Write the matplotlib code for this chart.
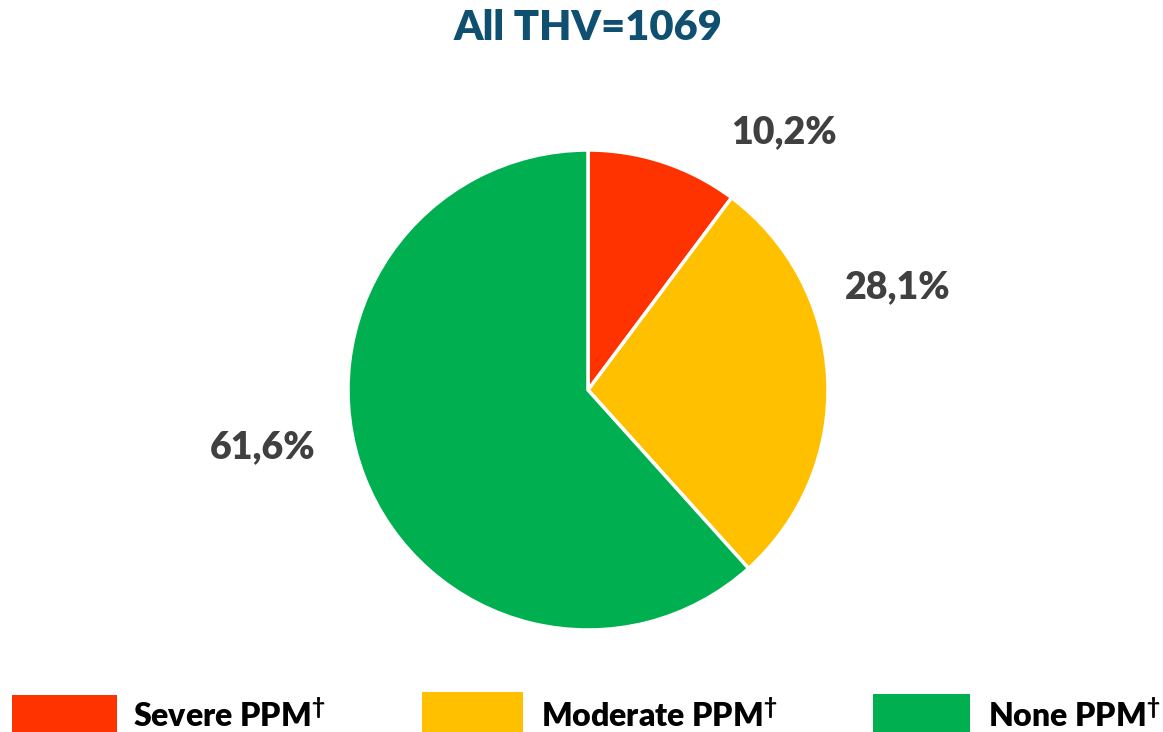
import matplotlib
matplotlib.use('Agg')
import matplotlib.pyplot as plt
from matplotlib.patches import Rectangle

categories = ['Severe PPM', 'Moderate PPM', 'None PPM']
shares = [10.2, 28.1, 61.6]
pct_labels = ['10,2%', '28,1%', '61,6%']
colors = ['#FF3300', '#FFC000', '#00B050']
title = 'All THV=1069'

plt.rcParams['font.family'] = ['Lato', 'DejaVu Sans']
plt.rcParams['mathtext.fontset'] = 'custom'
plt.rcParams['mathtext.bf'] = 'Lato:black'
plt.rcParams['mathtext.rm'] = 'Lato:black'

W, H = 1163, 732
fig = plt.figure(figsize=(W / 100, H / 100), dpi=100)

# pie: centre (588, 390) px, radius 240 px
ax = fig.add_axes([348 / W, (H - 630) / H, 480 / W, 480 / H])
ax.pie(shares, colors=colors, startangle=90, counterclock=False,
       wedgeprops=dict(edgecolor='white', linewidth=2.5))
ax.set_xlim(-1, 1)
ax.set_ylim(-1, 1)
ax.set_aspect('equal')
ax.axis('off')

# percent labels, positions in pie-radius units
label_pos = [(0.815, 1.075), (1.29, 0.43), (-1.355, -0.24)]
for txt, (x, y) in zip(pct_labels, label_pos):
    ax.text(x, y, txt, ha='center', va='center', fontsize=27,
            fontweight='heavy', color='#404040')

fig.text(588 / W, 1 - 28 / H, title, ha='center', va='center',
         fontsize=30, fontweight='heavy', color='#0F5070')

# legend along the bottom
boxes = [(12, 695, 105), (422, 692, 101), (873, 694, 97)]
text_x = [133, 541, 988]
for name, col, (bx, by, bw), tx in zip(categories, colors, boxes, text_x):
    fig.patches.append(Rectangle((bx / W, 0), bw / W, (H - by) / H,
                                 transform=fig.transFigure, facecolor=col,
                                 edgecolor='none'))
    fig.text(tx / W, 1 - 715 / H, name + r'$^{\dagger}$', ha='left',
             va='center', fontsize=23, fontweight='heavy', color='black')

fig.savefig('out.png', dpi=100)
